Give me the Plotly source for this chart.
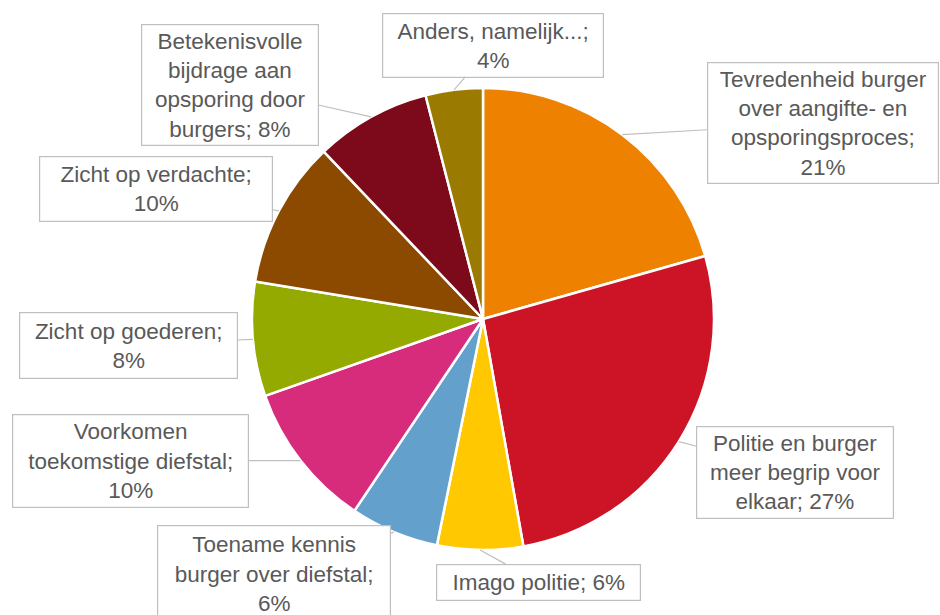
import math
import plotly.graph_objects as go

categories = [
    "Tevredenheid burger over aangifte- en opsporingsproces",
    "Politie en burger meer begrip voor elkaar",
    "Imago politie",
    "Toename kennis burger over diefstal",
    "Voorkomen toekomstige diefstal",
    "Zicht op goederen",
    "Zicht op verdachte",
    "Betekenisvolle bijdrage aan opsporing door burgers",
    "Anders, namelijk...",
]
# label text as wrapped in the chart (percentage appended from the values)
label_lines = [
    "Tevredenheid burger<br>over aangifte- en<br>opsporingsproces;<br>",
    "Politie en burger<br>meer begrip voor<br>elkaar; ",
    "Imago politie; ",
    "Toename kennis<br>burger over diefstal;<br>",
    "Voorkomen<br>toekomstige diefstal;<br>",
    "Zicht op goederen;<br>",
    "Zicht op verdachte;<br>",
    "Betekenisvolle<br>bijdrage aan<br>opsporing door<br>burgers; ",
    "Anders, namelijk...;<br>",
]
values = [20.6, 26.6, 6.0, 6.2, 10.2, 8.0, 10.3, 8.1, 4.0]
colors = ["#EE8100", "#CC1426", "#FFC800", "#64A0CC", "#D72B7C",
          "#94AA00", "#8C4A00", "#7C0A1A", "#9A7A00"]

# label box centres and sizes (pixels)
box_centers = [(823, 123), (795, 472), (538, 582), (274, 574), (130, 461),
               (128, 345), (156, 189), (230, 85), (493, 45)]
box_sizes = [(230, 120), (196, 91), (203, 35), (232, 96), (235, 92),
             (217, 65), (232, 64), (176, 120), (220, 63)]

W, H = 940, 615
CX, CY, R = 483, 319, 231
mt, mb = CY - R, H - (CY + R)
plot_h = H - mt - mb

def to_paper(px, py):
    return px / W, (H - mb - py) / plot_h

fig = go.Figure(go.Pie(
    labels=categories, values=values, sort=False, direction="clockwise",
    rotation=0, marker=dict(colors=colors, line=dict(color="white", width=2.5)),
    textinfo="none", hoverinfo="label+percent",
    domain=dict(x=[(CX - R) / W, (CX + R) / W], y=[0, 1]),
))

total = sum(values)
cum = 0
annotations = []
for i, v in enumerate(values):
    mid = (cum + v / 2) / total * 2 * math.pi
    cum += v
    tx = CX + R * math.sin(mid)
    ty = CY - R * math.cos(mid)
    bx, by = box_centers[i]
    bw, bh = box_sizes[i]
    x, y = to_paper(tx, ty)
    pct = round(v / total * 100)
    annotations.append(dict(
        x=x, y=y, xref="paper", yref="paper", text=f"{label_lines[i]}{pct}%",
        showarrow=True, arrowhead=0, arrowwidth=1.2, arrowcolor="#BFBFBF",
        ax=bx - tx, ay=by - ty, axref="pixel", ayref="pixel",
        bgcolor="white", bordercolor="#BFBFBF", borderwidth=1.2, borderpad=0,
        width=bw, height=bh, align="center", valign="middle",
        font=dict(family="Liberation Sans, Arial", size=22.5, color="#595959"),
    ))

fig.update_layout(
    width=W, height=H, showlegend=False,
    margin=dict(l=0, r=0, t=mt, b=mb, pad=0),
    paper_bgcolor="white", plot_bgcolor="white",
    annotations=annotations,
)
fig.write_html("out.html", config={"displayModeBar": False},
               post_script="document.body.style.margin='0';")
